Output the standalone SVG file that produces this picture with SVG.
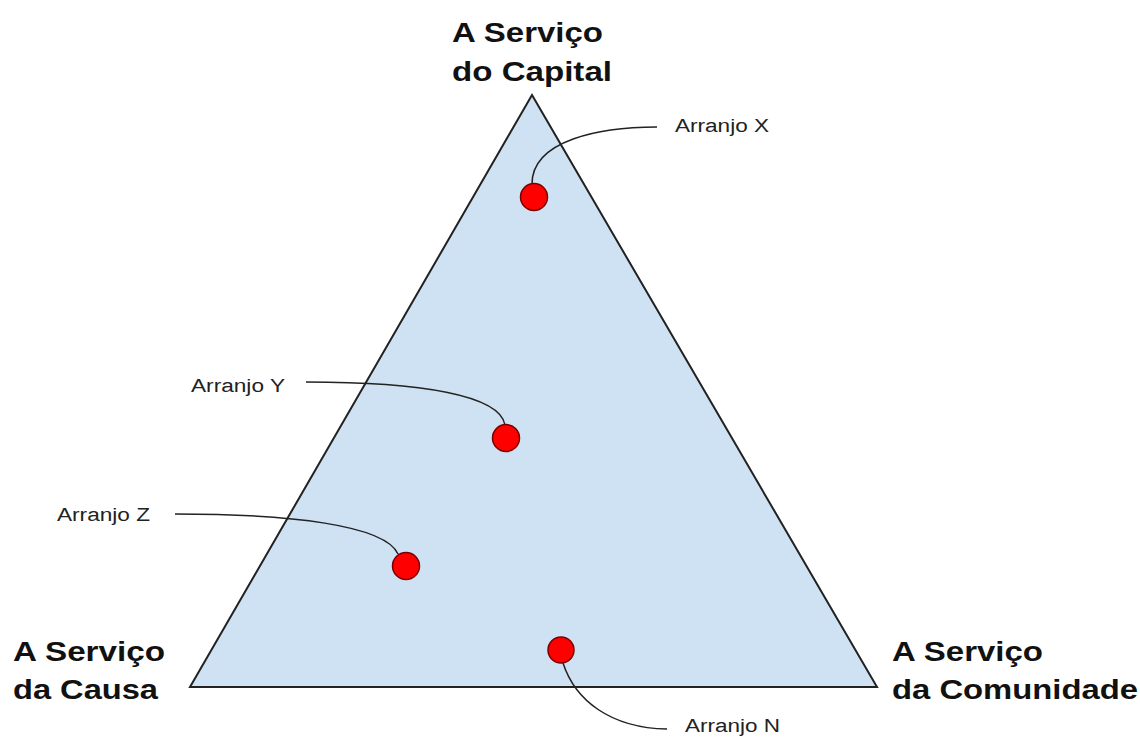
<svg xmlns="http://www.w3.org/2000/svg" width="1140" height="737" viewBox="0 0 1140 737">
<style>
.big{font-family:"Liberation Sans",Arial,sans-serif;font-weight:bold;font-size:27px;fill:#111}
.lbl{font-family:"Liberation Sans",Arial,sans-serif;font-size:18px;fill:#222}
.dot{fill:#ff0000;stroke:#7a0000;stroke-width:1.5}
.con{fill:none;stroke:#222;stroke-width:1.5}
</style>
<rect width="1140" height="737" fill="#ffffff"/>
<g id="triangle">
<polygon points="532,95 190,687 877,687" fill="#cfe2f3" stroke="#222" stroke-width="2"/>
</g>
<g id="connectors">
<path class="con" d="M532,184 C532,140 600,127 657,127"/>
<path class="con" d="M306,382 C420,382 500,395 505,425"/>
<path class="con" d="M175,514 C290,514 385,525 398,554"/>
<path class="con" d="M563,663 C575,700 610,728 667,729"/>
</g>
<g id="capital"><text class="big" x="452" y="42" textLength="151" lengthAdjust="spacingAndGlyphs">A Serviço</text><text class="big" x="452" y="81" textLength="160" lengthAdjust="spacingAndGlyphs">do Capital</text></g>
<g id="causa"><text class="big" x="13" y="661" textLength="152" lengthAdjust="spacingAndGlyphs">A Serviço</text><text class="big" x="13" y="699" textLength="145" lengthAdjust="spacingAndGlyphs">da Causa</text></g>
<g id="comunidade"><text class="big" x="892" y="661" textLength="151" lengthAdjust="spacingAndGlyphs">A Serviço</text><text class="big" x="892" y="699" textLength="246" lengthAdjust="spacingAndGlyphs">da Comunidade</text></g>
<g id="arranjoX"><circle class="dot" cx="534" cy="197" r="13.5"/><text class="lbl" x="675" y="132" textLength="94" lengthAdjust="spacingAndGlyphs">Arranjo X</text></g>
<g id="arranjoY"><circle class="dot" cx="506" cy="438" r="13.5"/><text class="lbl" x="191" y="392" textLength="94" lengthAdjust="spacingAndGlyphs">Arranjo Y</text></g>
<g id="arranjoZ"><circle class="dot" cx="406" cy="566" r="13.5"/><text class="lbl" x="57" y="521" textLength="93" lengthAdjust="spacingAndGlyphs">Arranjo Z</text></g>
<g id="arranjoN"><circle class="dot" cx="561" cy="650" r="13"/><text class="lbl" x="685" y="732" textLength="95" lengthAdjust="spacingAndGlyphs">Arranjo N</text></g>
</svg>
